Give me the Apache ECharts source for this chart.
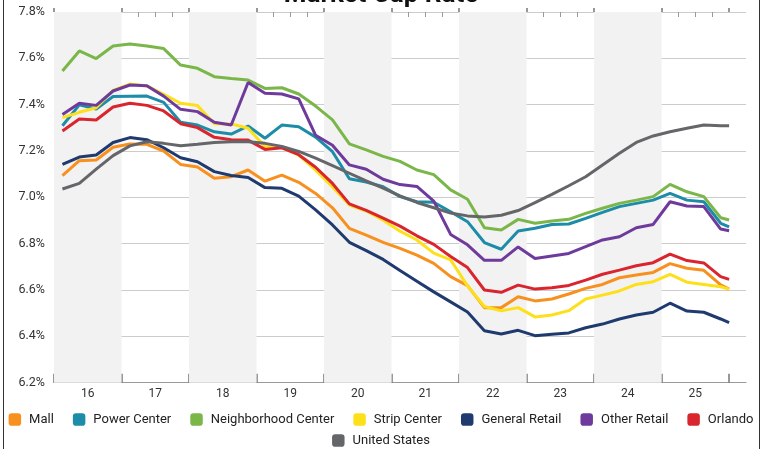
<!DOCTYPE html>
<html>
<head>
<meta charset="utf-8">
<style>
  html, body { margin: 0; padding: 0; background: #fff; }
  #chart { width: 762px; height: 449px; }
</style>
<script src="https://cdn.jsdelivr.net/npm/echarts@6/dist/echarts.min.js"></script>
</head>
<body>
<div id="chart"></div>
<script>
// ---- data ----
var quarters = [
  '2016 Q1','2016 Q2','2016 Q3','2016 Q4','2017 Q1','2017 Q2','2017 Q3','2017 Q4',
  '2018 Q1','2018 Q2','2018 Q3','2018 Q4','2019 Q1','2019 Q2','2019 Q3','2019 Q4',
  '2020 Q1','2020 Q2','2020 Q3','2020 Q4','2021 Q1','2021 Q2','2021 Q3','2021 Q4',
  '2022 Q1','2022 Q2','2022 Q3','2022 Q4','2023 Q1','2023 Q2','2023 Q3','2023 Q4',
  '2024 Q1','2024 Q2','2024 Q3','2024 Q4','2025 Q1','2025 Q2','2025 Q3','2025 Q4'
];
var latestX = 2026.0; // final (current) reading sits at the 2025/2026 boundary

var mall = [7.094,7.158,7.161,7.216,7.230,7.229,7.200,7.142,7.131,7.082,7.089,7.118,7.070,7.096,7.065,7.017,6.955,6.866,6.837,6.806,6.780,6.751,6.715,6.658,6.619,6.524,6.524,6.571,6.553,6.561,6.583,6.607,6.624,6.653,6.665,6.676,6.714,6.694,6.685,6.622,6.604];
var powerCenter = [7.309,7.399,7.381,7.435,7.436,7.437,7.410,7.324,7.312,7.283,7.273,7.308,7.255,7.312,7.305,7.260,7.197,7.080,7.066,7.046,7.003,6.981,6.979,6.938,6.895,6.805,6.776,6.855,6.867,6.883,6.885,6.909,6.935,6.960,6.974,6.988,7.017,6.988,6.981,6.888,6.873];
var neighborhoodCenter = [7.545,7.632,7.599,7.653,7.662,7.653,7.642,7.571,7.557,7.521,7.513,7.506,7.470,7.473,7.446,7.394,7.334,7.231,7.205,7.177,7.155,7.118,7.098,7.032,6.992,6.869,6.859,6.905,6.888,6.898,6.905,6.931,6.953,6.974,6.988,7.003,7.056,7.024,7.003,6.912,6.902];
var stripCenter = [7.344,7.367,7.387,7.462,7.489,7.481,7.445,7.406,7.396,7.318,7.317,7.298,7.219,7.216,7.182,7.117,7.045,6.967,6.941,6.901,6.854,6.816,6.759,6.730,6.618,6.529,6.510,6.524,6.484,6.492,6.511,6.561,6.578,6.596,6.624,6.636,6.668,6.634,6.624,6.614,6.604];
var generalRetail = [7.142,7.174,7.183,7.237,7.258,7.249,7.214,7.171,7.154,7.111,7.094,7.086,7.042,7.039,7.005,6.946,6.881,6.806,6.770,6.732,6.684,6.638,6.592,6.549,6.505,6.424,6.410,6.426,6.403,6.409,6.415,6.437,6.453,6.475,6.492,6.504,6.543,6.509,6.504,6.475,6.459];
var otherRetail = [7.358,7.406,7.397,7.459,7.485,7.482,7.437,7.380,7.370,7.324,7.312,7.496,7.449,7.446,7.425,7.268,7.225,7.140,7.121,7.078,7.055,7.047,6.984,6.840,6.795,6.728,6.728,6.786,6.736,6.747,6.758,6.787,6.816,6.830,6.869,6.883,6.981,6.963,6.960,6.863,6.856];
var orlando = [7.286,7.338,7.334,7.390,7.406,7.397,7.373,7.318,7.301,7.259,7.249,7.247,7.207,7.214,7.184,7.130,7.060,6.972,6.944,6.910,6.876,6.834,6.797,6.745,6.697,6.600,6.590,6.621,6.604,6.610,6.620,6.643,6.668,6.686,6.705,6.718,6.755,6.727,6.717,6.658,6.646];
var unitedStates = [7.036,7.060,7.122,7.180,7.222,7.240,7.233,7.223,7.229,7.237,7.240,7.240,7.233,7.220,7.198,7.169,7.137,7.104,7.071,7.040,7.006,6.978,6.955,6.932,6.920,6.915,6.923,6.943,6.977,7.013,7.050,7.089,7.140,7.190,7.237,7.265,7.283,7.298,7.312,7.309,7.309];

var yearTicks = [2016,2017,2018,2019,2020,2021,2022,2023,2024,2025,2026];
var yearLabels = ['16','17','18','19','20','21','22','23','24','25'];
var shadedYears = [2016,2018,2020,2022,2024];

var seriesNames = ['Mall','Power Center','Neighborhood Center','Strip Center','General Retail','Other Retail','Orlando','United States'];
var seriesValues = [mall, powerCenter, neighborhoodCenter, stripCenter, generalRetail, otherRetail, orlando, unitedStates];
var seriesColors = ['#F7901E','#1C8CA8','#7AB648','#FDE01A','#1F3A6E','#6E3A9B','#D9252E','#646669'];

// ---- build ----
function quarterX(label) {
  var y = parseInt(label.slice(0, 4), 10);
  var q = parseInt(label.slice(6), 10);
  return y + (q - 0.5) / 4;
}
var xs = quarters.map(quarterX).concat([latestX]);

var FONT = 'Roboto, "Noto Sans", sans-serif';
var xMin = 2016, xMax = 2026.25;

var quarterTicks = [];
for (var i = 0; i < yearTicks.length - 1; i++) {
  for (var k = 1; k < 4; k++) quarterTicks.push(yearTicks[i] + k / 4);
}

var series = seriesNames.map(function (name, si) {
  return {
    name: name,
    type: 'line',
    xAxisIndex: 0,
    symbol: 'none',
    lineStyle: { width: 3, color: seriesColors[si] },
    itemStyle: { color: seriesColors[si] },
    data: seriesValues[si].map(function (v, j) { return [xs[j], v]; }),
    z: 3
  };
});
series.unshift({
  name: '_bands',
  type: 'line',
  data: [],
  z: -1,
  silent: true,
  markArea: {
    silent: true,
    itemStyle: { color: '#f2f2f2' },
    data: shadedYears.map(function (y) { return [{ xAxis: y }, { xAxis: y + 1 }]; })
  }
});

var baseX = { type: 'value', min: xMin, max: xMax, gridIndex: 0 };
var legendBase = {
  left: 'center',
  icon: 'roundRect',
  itemWidth: 12.5,
  itemHeight: 12.5,
  itemGap: 19,
  padding: 0,
  textStyle: { fontFamily: FONT, fontSize: 13, color: '#222', padding: [0, 0, 0, 3] }
};

var option = {
  animation: false,
  backgroundColor: '#fff',
  textStyle: { fontFamily: FONT },
  title: {
    text: 'Market Cap Rate',
    left: 'center',
    top: -23,
    textStyle: { fontFamily: FONT, fontSize: 26, fontWeight: 'bold', color: '#111' }
  },
  grid: { left: 54, right: 16, top: 12, bottom: 66.3, containLabel: false },
  legend: [
    Object.assign({}, legendBase, { data: seriesNames.slice(0, 7), top: 413 }),
    Object.assign({}, legendBase, { data: seriesNames.slice(7), top: 434 })
  ],
  xAxis: [
    Object.assign({}, baseX, {
      axisLine: { show: true, lineStyle: { color: '#999', width: 1 } },
      axisTick: { show: true, inside: true, length: 9, customValues: yearTicks, lineStyle: { color: '#777', width: 1.5 } },
      axisLabel: {
        customValues: yearTicks.slice(0, -1).map(function (y) { return y + 0.5; }),
        formatter: function (v) { return yearLabels[Math.floor(v) - 2016] || ''; },
        fontFamily: FONT, fontSize: 12, color: '#333', margin: 5
      },
      splitLine: { show: false }
    }),
    Object.assign({}, baseX, {
      axisLine: { show: false },
      axisTick: { show: true, inside: true, length: 5, customValues: quarterTicks, lineStyle: { color: '#999', width: 1 } },
      axisLabel: { show: false },
      splitLine: { show: false }
    }),
    Object.assign({}, baseX, {
      axisLine: { show: false },
      axisTick: { show: true, inside: false, length: 4, customValues: yearTicks, lineStyle: { color: '#777', width: 1.5 } },
      axisLabel: { show: false },
      splitLine: { show: false }
    })
  ],
  yAxis: {
    type: 'value',
    min: 6.2,
    max: 7.8,
    interval: 0.2,
    axisLine: { show: false },
    axisTick: { show: false },
    axisLabel: {
      formatter: function (v) { return v.toFixed(1) + '%'; },
      fontFamily: FONT, fontSize: 12.5, color: '#333', margin: 9
    },
    splitLine: { lineStyle: { color: '#cccccc', width: 1 } }
  },
  graphic: [{
    type: 'rect',
    silent: true,
    shape: { x: 3.5, y: -10, width: 756, height: 470 },
    style: { fill: 'none', stroke: '#333', lineWidth: 1 },
    z: 100
  }],
  series: series
};

var chart = echarts.init(document.getElementById('chart'), null, { renderer: 'canvas' });
chart.setOption(option);
</script>
</body>
</html>
